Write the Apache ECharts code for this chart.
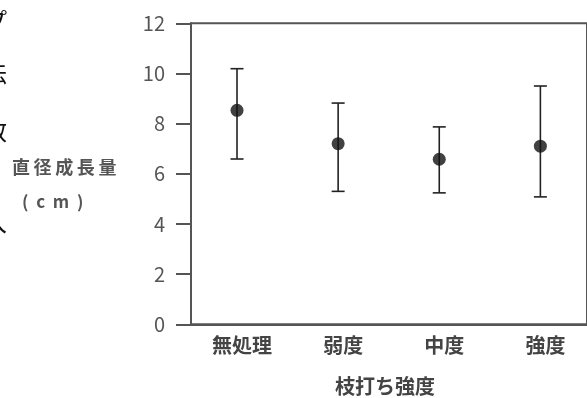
<!DOCTYPE html>
<html>
<head>
<meta charset="utf-8">
<script src="https://cdn.jsdelivr.net/npm/echarts@6/dist/echarts.min.js"></script>
<style>html,body{margin:0;padding:0;background:#fff;}#c{width:587px;height:398px;}</style>
</head>
<body>
<div id="c"></div>
<script>
const categories = ['無処理', '弱度', '中度', '強度'];
const means = [8.53, 7.2, 6.58, 7.1];
const upper = [10.19, 8.82, 7.87, 9.5];
const lower = [6.59, 5.3, 5.24, 5.08];
const yAxisTitle = ['直\u2009径\u2009成\u2009長\u2009量', '(  c  m  )'];
const xAxisTitle = '枝打ち強度';
const edgeChars = ['プ', '法', '数', '入'];

const positions = categories.map((c, i) => i + 1);
const pointData = positions.map((x, i) => [x, means[i]]);
const barData = positions.map((x, i) => [x, lower[i], upper[i]]);

const FONT = '"Noto Sans CJK JP", "Noto Sans", sans-serif';
const chart = echarts.init(document.getElementById('c'), null, { renderer: 'canvas' });

const edgeY = [21, 73, 131, 222];
const graphics = [
  { type: 'text', left: 12, top: 158, style: { text: yAxisTitle[0], font: 'bold 18px ' + FONT, fill: '#555' } },
  { type: 'text', left: 22, top: 193, style: { text: yAxisTitle[1], font: 'bold 17px ' + FONT, fill: '#555' } },
  { type: 'text', x: 385, y: 386, style: { text: xAxisTitle, font: 'bold 20px ' + FONT, fill: '#444', align: 'center', verticalAlign: 'middle' } }
];
edgeChars.forEach((ch, i) => {
  graphics.push({ type: 'text', x: -17, y: edgeY[i], style: { text: ch, font: '24px ' + FONT, fill: '#111', verticalAlign: 'middle' } });
});

chart.setOption({
  animation: false,
  backgroundColor: '#fff',
  grid: { left: 191, right: -10, top: 23.3, bottom: 73.7, show: true, borderColor: '#555', borderWidth: 2 },
  xAxis: {
    type: 'value', min: 0.545, max: 4.461,
    splitLine: { show: false },
    axisTick: { show: false },
    axisLine: { show: true, lineStyle: { color: '#555', width: 2 } },
    axisLabel: {
      customValues: positions,
      formatter: v => categories[Math.round(v) - 1] || '',
      fontFamily: FONT, fontSize: 20, fontWeight: 'bold', color: '#444', margin: 11,
      padding: [0, 0, 0, 10]
    }
  },
  yAxis: {
    type: 'value', min: 0, max: 12, interval: 2,
    splitLine: { show: false },
    axisLine: { show: true, lineStyle: { color: '#555', width: 2 } },
    axisTick: { show: true, inside: false, length: 15, lineStyle: { color: '#555', width: 2 } },
    axisLabel: { fontFamily: FONT, fontSize: 20, color: '#555', margin: 26 }
  },
  graphic: graphics,
  series: [
    {
      type: 'custom',
      data: barData,
      renderItem: function (params, api) {
        const x = api.value(0);
        const top = api.coord([x, api.value(2)]);
        const bot = api.coord([x, api.value(1)]);
        const w = 6.5;
        const st = { stroke: '#222', lineWidth: 1.6 };
        return {
          type: 'group',
          children: [
            { type: 'line', shape: { x1: top[0], y1: top[1], x2: bot[0], y2: bot[1] }, style: st },
            { type: 'line', shape: { x1: top[0] - w, y1: top[1], x2: top[0] + w, y2: top[1] }, style: st },
            { type: 'line', shape: { x1: bot[0] - w, y1: bot[1], x2: bot[0] + w, y2: bot[1] }, style: st }
          ]
        };
      },
      z: 2
    },
    {
      type: 'scatter',
      data: pointData,
      symbol: 'circle',
      symbolSize: 13,
      itemStyle: { color: '#111' },
      z: 3
    }
  ]
});
</script>
</body>
</html>
